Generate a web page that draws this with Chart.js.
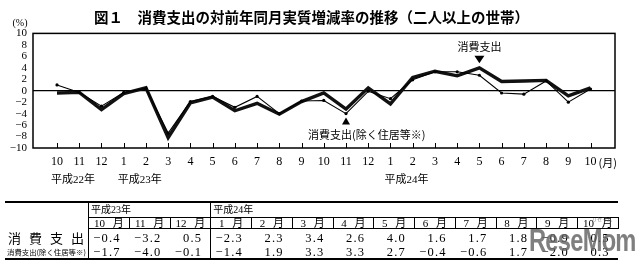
<!DOCTYPE html>
<html>
<head>
<meta charset="utf-8">
<script src="https://cdn.jsdelivr.net/npm/chart.js@4.4.1/dist/chart.umd.min.js"></script>
<style>
  body { margin: 0; background: #fff; width: 640px; height: 266px; overflow: hidden; position: relative;
         font-family: "Liberation Serif", "Noto Sans CJK JP", serif; color: #000; }
  #wrap { position: absolute; left: 0; top: 0; width: 640px; height: 196px; }
  #tbl { position: absolute; left: 0; top: 0; width: 640px; height: 266px; }
  .ab { position: absolute; white-space: nowrap; box-sizing: border-box; }
</style>
</head>
<body>
<div id="wrap"><canvas id="c" width="640" height="196"></canvas></div>
<div id="tbl"></div>
<script>
// months from H22/10 to H24/10
const months = ['10','11','12','1','2','3','4','5','6','7','8','9','10','11','12','1','2','3','4','5','6','7','8','9','10'];
const yearNames = ['平成22年', '平成23年', '平成24年'];
const yearStarts = [0, 3, 15];
// 消費支出
const spending = [-0.4, -0.3, -3.3, -0.5, 0.5, -8.2, -2.1, -1.1, -3.5, -2.2, -4.1, -1.9,
                  -0.4, -3.2, 0.5, -2.3, 2.3, 3.4, 2.6, 4.0, 1.6, 1.7, 1.8, -0.9, 0.5];
// 消費支出(除く住居等※)
const excluding = [1.0, -0.3, -2.7, -0.3, 0.4, -7.4, -1.9, -1.0, -2.9, -1.0, -4.0, -1.8,
                   -1.7, -4.0, -0.1, -1.4, 1.9, 3.3, 3.3, 2.7, -0.4, -0.6, 1.7, -2.0, 0.3];
const tableFrom = 12;      // table starts at H23/10
const tableYears = ['平成23年', '平成24年'];
const tableYearStarts = [12, 15];

const serif = '"Liberation Serif", "Noto Sans CJK JP", serif';
const jp = '"Noto Sans CJK JP", sans-serif';

const extras = {
  id: 'extras',
  afterDraw(chart) {
    const { ctx, chartArea: a } = chart;
    const xs = chart.scales.x, ys = chart.scales.y;
    ctx.save();
    // frame
    ctx.strokeStyle = '#000';
    ctx.lineWidth = 1.5;
    ctx.strokeRect(a.left, a.top, a.right - a.left, a.bottom - a.top);
    // inner tick marks at the bottom
    ctx.lineWidth = 1;
    months.forEach((m, i) => {
      const x = Math.round(xs.getPixelForValue(i)) + 0.5;
      ctx.beginPath();
      ctx.moveTo(x, a.bottom);
      ctx.lineTo(x, a.bottom - 5);
      ctx.stroke();
    });
    ctx.fillStyle = '#000';
    // (%)
    ctx.font = '10px ' + serif;
    ctx.textAlign = 'center';
    ctx.textBaseline = 'middle';
    ctx.fillText('(%)', 20, a.top - 10);
    // (月)
    const last = months.length - 1;
    ctx.font = '11px ' + jp;
    ctx.textAlign = 'left';
    ctx.fillText('(月)', xs.getPixelForValue(last) + 8, a.bottom + 15);
    // year labels
    ctx.font = '11px ' + serif;
    yearNames.forEach((t, k) => {
      ctx.fillText(t, xs.getPixelForValue(yearStarts[k]) - 6, a.bottom + 32);
    });
    // annotations
    ctx.font = '11px ' + jp;
    const i1 = 19, y1 = ys.getPixelForValue(spending[i1]), x1 = xs.getPixelForValue(i1);
    ctx.beginPath();
    ctx.moveTo(x1 - 5, y1 - 12); ctx.lineTo(x1 + 5, y1 - 12); ctx.lineTo(x1, y1 - 4.5); ctx.closePath();
    ctx.fill();
    ctx.textAlign = 'center';
    ctx.fillText('消費支出', x1, y1 - 21);
    const i2 = 13, y2 = ys.getPixelForValue(excluding[i2]), x2 = xs.getPixelForValue(i2);
    ctx.beginPath();
    ctx.moveTo(x2 - 4, y2 + 11); ctx.lineTo(x2 + 4, y2 + 11); ctx.lineTo(x2, y2 + 4); ctx.closePath();
    ctx.fill();
    ctx.textAlign = 'left';
    ctx.fillText('消費支出(除く住居等※)', x2 - 38, y2 + 21);
    ctx.restore();
  }
};

new Chart(document.getElementById('c'), {
  type: 'line',
  data: {
    datasets: [
      { label: '消費支出', data: spending.map((v, i) => ({ x: i, y: v })),
        borderColor: '#111', borderWidth: 3.4, pointRadius: 0, tension: 0, order: 1 },
      { label: '消費支出(除く住居等※)', data: excluding.map((v, i) => ({ x: i, y: v })),
        borderColor: '#000', borderWidth: 1.1, pointRadius: 1.6, pointBorderWidth: 0,
        pointBackgroundColor: '#000', tension: 0, order: 0 }
    ]
  },
  options: {
    responsive: false,
    animation: false,
    layout: { padding: { left: 8, right: 25, top: 0, bottom: 0 } },
    plugins: {
      legend: { display: false },
      tooltip: { enabled: false },
      title: {
        display: true,
        text: '図１　消費支出の対前年同月実質増減率の推移（二人以上の世帯）',
        color: '#000',
        font: { family: jp, size: 14.5, weight: 'bold' },
        padding: { top: 9, bottom: 7 }
      }
    },
    scales: {
      x: {
        type: 'linear', min: -1.08, max: 25.1,
        grid: { display: false, drawTicks: false }, border: { display: false },
        afterBuildTicks: axis => { axis.ticks = months.map((m, i) => ({ value: i })); },
        ticks: { autoSkip: false, maxRotation: 0, padding: 7, color: '#000',
                 font: { family: serif, size: 12 }, callback: v => months[v] },
        afterFit: axis => { axis.height = 48; }
      },
      y: {
        min: -10, max: 10,
        border: { display: false },
        grid: { drawTicks: false, lineWidth: 1.2,
                color: c => (c.tick && c.tick.value === 0) ? '#000' : 'rgba(0,0,0,0)' },
        ticks: { stepSize: 2, autoSkip: false, padding: 6, color: '#000', font: { family: serif, size: 11 },
                 callback: v => v < 0 ? '−' + (-v) : String(v) },
        afterFit: axis => { axis.width = 25; }
      }
    }
  },
  plugins: [extras]
});

// table
const T = document.getElementById('tbl');
function box(css, text) {
  const d = document.createElement('div');
  d.className = 'ab';
  d.style.cssText = css;
  if (text != null) d.textContent = text;
  T.appendChild(d);
  return d;
}
const col0 = 88, colW = 40.75, nCols = months.length - tableFrom;
const right = col0 + nCols * colW;
const fmt = v => (v < 0 ? '−' : '') + Math.abs(v).toFixed(1);

box(`left:5px;top:201px;width:${right - 5}px;height:2px;background:#000`);
box(`left:5px;top:258px;width:${right - 5}px;height:2px;background:#000`);
box(`left:${col0}px;top:202px;width:1px;height:57px;background:#000`);
tableYears.forEach((t, k) => {
  const x = col0 + (tableYearStarts[k] - tableFrom) * colW;
  if (k > 0) box(`left:${x}px;top:202px;width:1px;height:57px;background:#000`);
  box(`left:${x + 3}px;top:204px;font-size:10px;line-height:12px;font-family:${serif}`, t);
});
for (let k = 0; k < nCols; k++) {
  const i = tableFrom + k, x = col0 + k * colW;
  box(`left:${x}px;top:217px;width:${colW + 1}px;height:12px;border:1px solid #000;` +
      `text-align:center;font-size:11px;line-height:10px;word-spacing:5px;font-family:${serif}`, months[i] + ' 月');
  box(`left:${x}px;top:231px;width:${colW}px;padding-right:8px;text-align:right;font-size:12.5px;` +
      `line-height:14px;letter-spacing:1.2px;font-family:${serif}`, fmt(spending[i]));
  box(`left:${x}px;top:245px;width:${colW}px;padding-right:8px;text-align:right;font-size:12.5px;` +
      `line-height:14px;letter-spacing:1.2px;font-family:${serif}`, fmt(excluding[i]));
}
const lab = box(`left:8px;top:231px;width:76px;height:14px;display:flex;justify-content:space-between;` +
                `font-size:13px;line-height:14px;font-family:${jp}`);
'消費支出'.split('').forEach(ch => { const s = document.createElement('span'); s.textContent = ch; lab.appendChild(s); });
box(`left:7px;top:246px;font-size:7.4px;line-height:12px;font-family:${jp}`, '消費支出(除く住居等※)');

// watermark
box(`left:529px;top:222px;font-size:32px;line-height:36px;font-weight:bold;letter-spacing:-1px;` +
    `transform:scaleX(0.74);transform-origin:0 0;` +
    `font-family:"Liberation Sans",sans-serif;color:rgba(95,95,95,0.8)`, 'ReseMom');
box(`left:592px;top:216px;font-size:5px;line-height:6px;font-family:${jp};color:rgba(95,95,95,0.8)`, 'リセマム');
</script>
</body>
</html>
